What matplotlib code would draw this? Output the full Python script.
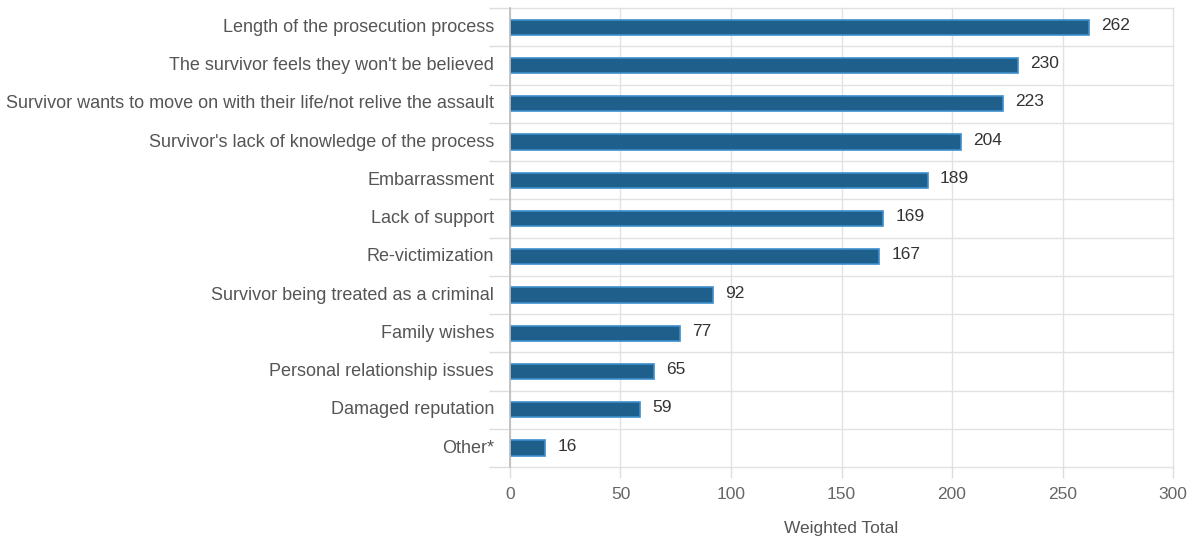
import numpy as np
import matplotlib.pyplot as plt

categories = [
    "Length of the prosecution process",
    "The survivor feels they won't be believed",
    "Survivor wants to move on with their life/not relive the assault",
    "Survivor's lack of knowledge of the process",
    "Embarrassment",
    "Lack of support",
    "Re-victimization",
    "Survivor being treated as a criminal",
    "Family wishes",
    "Personal relationship issues",
    "Damaged reputation",
    "Other*",
]
values = [262, 230, 223, 204, 189, 169, 167, 92, 77, 65, 59, 16]
x_ticks = [0, 50, 100, 150, 200, 250, 300]

plt.rcParams['font.family'] = ['Liberation Sans', 'DejaVu Sans']

fig = plt.figure(figsize=(11.96, 5.4), dpi=100)
ax = fig.add_axes([0.4264, 0.135, 0.5544, 0.850])

y = np.arange(len(categories))
ax.barh(y, values, height=0.40, color="#1f5f8b", edgecolor="#3d8fcc", linewidth=1.2, zorder=3)
for yi, v in zip(y, values):
    ax.text(v + 5.5, yi - 0.05, str(v), va="center", ha="left", fontsize=12.5, color="#333333")

ax.set_ylim(len(categories) - 0.5, -0.5)
ax.set_xlim(0, 300)

ax.set_yticks(y - 0.05)
ax.set_yticklabels(categories)
bounds = np.arange(len(categories) + 1) - 0.5
ax.set_yticks(bounds, minor=True)
ax.set_xticks(x_ticks)

ax.tick_params(axis="y", which="major", length=0, pad=11.5, labelsize=13, labelcolor="#555555")
ax.tick_params(axis="y", which="minor", length=15, width=1, color="#dddddd")
ax.tick_params(axis="x", which="major", length=8, width=1, color="#dddddd", pad=6,
               labelsize=12.5, labelcolor="#666666")

# grid lines drawn by hand so the edge lines are not clipped
for b in bounds:
    ax.axhline(b, color="#e2e2e2", linewidth=1, zorder=0, clip_on=False)
for t in x_ticks:
    ax.axvline(t, color="#e2e2e2", linewidth=1, zorder=0, clip_on=False)

for side in ["top", "right", "bottom"]:
    ax.spines[side].set_visible(False)
ax.spines["left"].set_color("#bbbbbb")
ax.spines["left"].set_linewidth(1.2)
ax.spines["left"].set_zorder(4)

ax.set_xlabel("Weighted Total", fontsize=12.5, color="#555555", labelpad=14)

fig.savefig("out.png", dpi=100)
